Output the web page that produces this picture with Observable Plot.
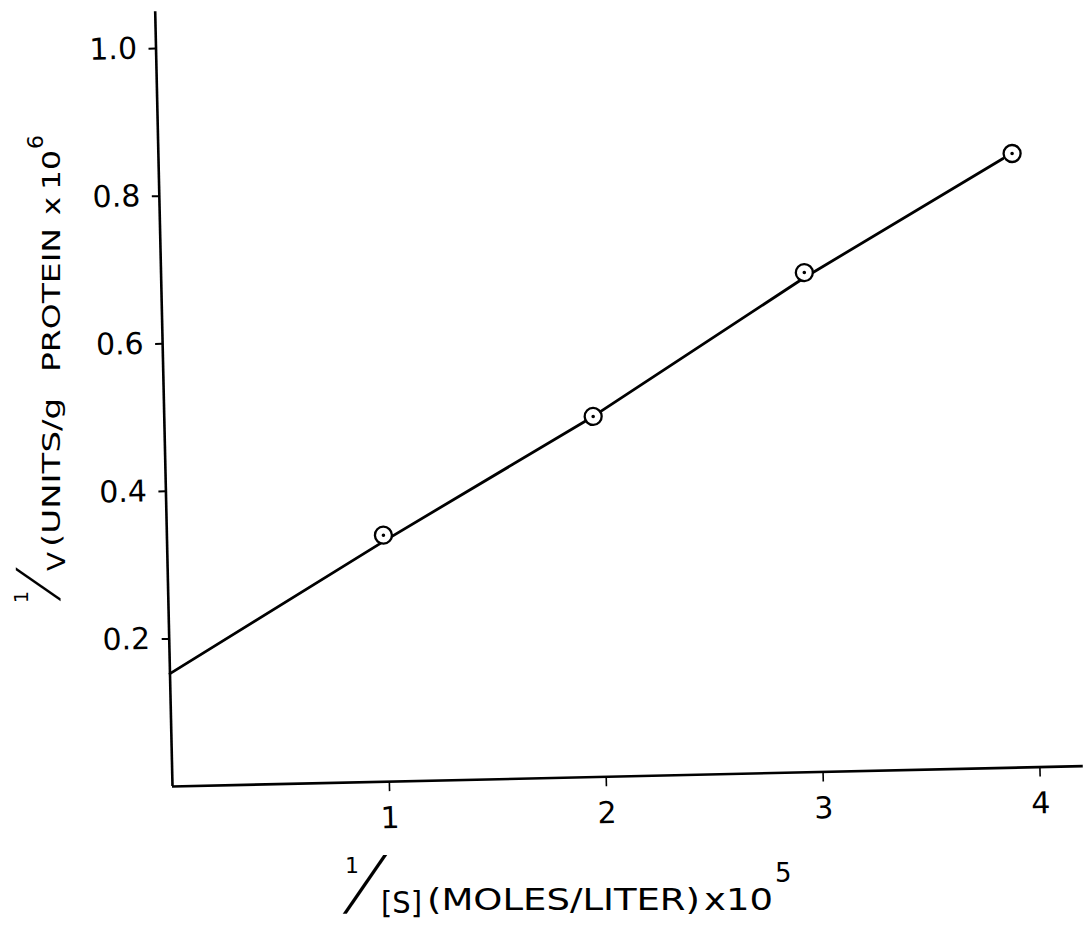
<!DOCTYPE html>
<html>
<head>
<meta charset="utf-8">
<script src="https://cdn.jsdelivr.net/npm/d3@7"></script>
<script src="https://cdn.jsdelivr.net/npm/@observablehq/plot@0.6"></script>
<style>
  html, body { margin: 0; padding: 0; background: #fff; }
  #chart svg { display: block; }
</style>
</head>
<body>
<div id="chart"></div>
<script>
// Measured points: 1/[S] (x10^5) and 1/v (x10^6)
const invS = [0.998, 1.977, 2.965, 3.935];
const invV = [0.334, 0.4885, 0.677, 0.832];
// Hand-drawn fitted line, read along its length
const fitX = [0, 1.006, 1.977, 2.964, 3.893];
const fitY = [0.153, 0.327, 0.4885, 0.670, 0.8255];
// Axis ticks
const xTicks = [1, 2, 3, 4];
const xTickLabels = ["1", "2", "3", "4"];
const yTicks = [0.2, 0.4, 0.6, 0.8, 1.0];
const yTickLabels = ["0.2", "0.4", "0.6", "0.8", "1.0"];

const points = invS.map((x, i) => ({x, y: invV[i]}));
const fit = fitX.map((x, i) => ({x, y: fitY[i]}));

const font = "DejaVu Sans";
const thin = "Roboto, 'Open Sans', 'Liberation Sans', sans-serif";

const chart = Plot.plot({
  width: 1083,
  height: 926,
  marginLeft: 172,
  marginRight: 0,
  marginTop: 11,
  marginBottom: 140,
  style: {fontFamily: font, color: "black", background: "white", overflow: "visible"},
  x: {domain: [0, 4.2]},
  y: {domain: [0, 1.05]},
  marks: [
    Plot.axisX({ticks: xTicks, tickFormat: (d) => xTickLabels[xTicks.indexOf(d)], tickSize: 10, tickPadding: 15, fontSize: 30, label: null, strokeWidth: 1.6}),
    Plot.axisY({ticks: yTicks, tickFormat: (d) => yTickLabels[yTicks.indexOf(d)], tickSize: 7, tickPadding: 12, fontSize: 30, label: null, strokeWidth: 2}),
    Plot.ruleY([0], {strokeWidth: 2.6}),
    Plot.ruleX([0], {strokeWidth: 2.6}),
    Plot.line(fit, {x: "x", y: "y", strokeWidth: 2.8}),
    Plot.dot(points, {x: "x", y: "y", r: 8.5, fill: "white", stroke: "black", strokeWidth: 2.3}),
    Plot.dot(points, {x: "x", y: "y", r: 1.8, fill: "black"})
  ]
});

// The scanned figure is slightly tilted: rotate the plotted content a little
const svgNode = chart;
const kids = Array.from(svgNode.childNodes).filter(n => n.nodeName.toLowerCase() !== "style");
const tilt = d3.select(svgNode).append("g").attr("transform", "rotate(-1.28,172,786)");
kids.forEach(n => tilt.node().appendChild(n));

const svg = d3.select(svgNode);

// x-axis label: 1/[S] (MOLES/LITER) x10^5
const xl = svg.append("g").attr("font-family", font).attr("fill", "black").attr("text-anchor", "start");
xl.append("text").attr("x", 345).attr("y", 873).attr("font-size", 22).text("1");
xl.append("g").attr("transform", "translate(343,909) skewX(-17)")
  .append("text").attr("x", 0).attr("y", 0).attr("font-size", 76)
  .attr("font-family", thin).attr("font-weight", 300).text("/");
xl.append("text").attr("x", 381).attr("y", 913).attr("font-size", 31)
  .attr("textLength", 41).attr("lengthAdjust", "spacingAndGlyphs").text("[S]");
xl.append("text").attr("x", 427).attr("y", 910).attr("font-size", 30)
  .attr("textLength", 273).attr("lengthAdjust", "spacingAndGlyphs").text("(MOLES/LITER)");
xl.append("text").attr("x", 704).attr("y", 910).attr("font-size", 30)
  .attr("textLength", 69).attr("lengthAdjust", "spacingAndGlyphs").text("x10");
xl.append("text").attr("x", 775).attr("y", 882).attr("font-size", 26).text("5");

// y-axis label: 1/V (UNITS/g PROTEIN x 10^6
const yl = svg.append("g").attr("font-family", font).attr("fill", "black").attr("text-anchor", "start")
  .attr("transform", "translate(60,605) rotate(-90)");
yl.append("text").attr("x", 2).attr("y", -32).attr("font-size", 19).text("1");
yl.append("g").attr("transform", "translate(4,-3.5) skewX(-17)")
  .append("text").attr("x", 0).attr("y", 0).attr("font-size", 58)
  .attr("font-family", thin).attr("font-weight", 300).text("/");
yl.append("text").attr("x", 34).attr("y", 5).attr("font-size", 25)
  .attr("textLength", 19).attr("lengthAdjust", "spacingAndGlyphs").text("V");
yl.append("text").attr("x", 58).attr("y", 0).attr("font-size", 25)
  .attr("textLength", 149).attr("lengthAdjust", "spacingAndGlyphs").text("(UNITS/g");
yl.append("text").attr("x", 233).attr("y", 0).attr("font-size", 25)
  .attr("textLength", 144).attr("lengthAdjust", "spacingAndGlyphs").text("PROTEIN");
yl.append("text").attr("x", 390).attr("y", 0).attr("font-size", 25)
  .attr("textLength", 18).attr("lengthAdjust", "spacingAndGlyphs").text("x");
yl.append("text").attr("x", 415).attr("y", 0).attr("font-size", 25)
  .attr("textLength", 40).attr("lengthAdjust", "spacingAndGlyphs").text("10");
yl.append("text").attr("x", 456).attr("y", -17).attr("font-size", 22).text("6");

document.getElementById("chart").appendChild(svgNode);
</script>
</body>
</html>
